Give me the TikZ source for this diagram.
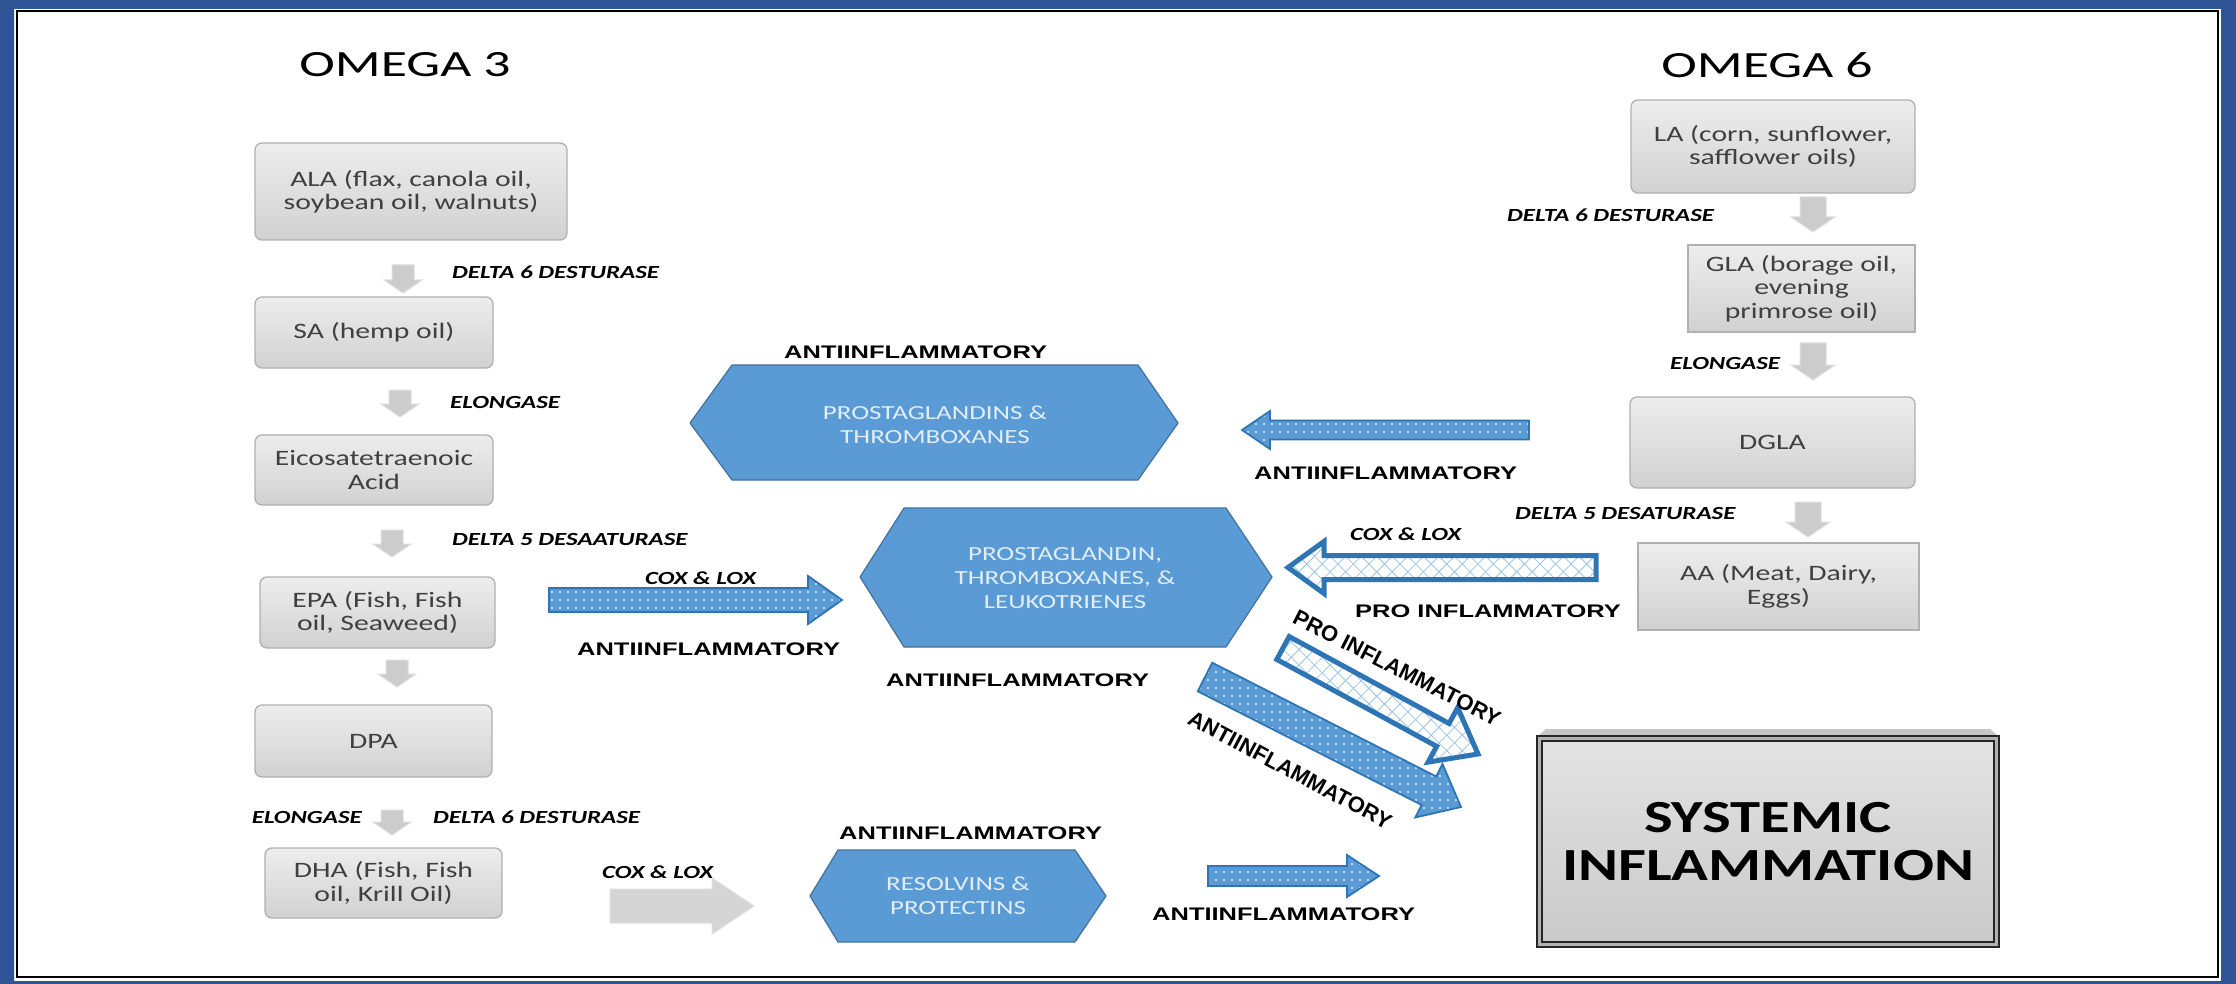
\documentclass[tikz,border=0pt]{standalone}
\usepackage{fontspec}
\usetikzlibrary{calc,patterns.meta}
\newfontfamily\boxfont[FakeStretch=1.35]{Carlito}
\newfontfamily\titlefont[FakeStretch=1.45]{Carlito}
\newfontfamily\sysfont[FakeStretch=1.32]{Carlito}
\newfontfamily\antifont[FakeStretch=1.4]{Liberation Sans}
\newfontfamily\diagfont{Liberation Sans}
\definecolor{hexblue}{HTML}{5B9BD5}
\definecolor{hexedge}{HTML}{41719C}
\definecolor{arrowedge}{HTML}{2E75B6}
\definecolor{hatchblue}{HTML}{9DC3E6}
\definecolor{frameblue}{HTML}{2F5597}
\definecolor{boxtext}{HTML}{404040}
\newcommand{\blockarr}[6][]{%
  \coordinate (ba-h) at ($(#3)!#6!(#2)$);
  \path[#1] ($(#2)!#4!90:(#3)$) -- ($(ba-h)!#4!-90:(#2)$) -- ($(ba-h)!#5!-90:(#2)$) -- (#3)
    -- ($(ba-h)!#5!90:(#2)$) -- ($(ba-h)!#4!90:(#2)$) -- ($(#2)!#4!-90:(#3)$) -- cycle;
}
\begin{document}
\begin{tikzpicture}[x=1pt,y=-1pt,
  graybox/.style={draw=gray!62, line width=1.3pt, top color=gray!14, bottom color=gray!36,
    rounded corners=7pt, align=center, font=\boxfont\fontsize{22}{23.5}\selectfont,
    text=boxtext, inner sep=0pt},
  sqbox/.style={graybox, sharp corners},
  enzyme/.style={font=\boxfont\bfseries\itshape\fontsize{18.5}{20}\selectfont, inner sep=0pt},
  anti/.style={font=\antifont\bfseries\fontsize{18.2}{20}\selectfont, inner sep=0pt},
  diag/.style={font=\diagfont\bfseries\fontsize{22}{24}\selectfont, inner sep=0pt},
  title/.style={font=\titlefont\fontsize{37}{40}\selectfont, inner sep=0pt},
  hextext/.style={font=\boxfont\fontsize{20}{24}\selectfont, text=white!82!hexblue, align=center, inner sep=0pt},
  hexfill/.style={fill=hexblue, draw=hexedge, line width=1.2pt, line join=round},
  grayarr/.style={fill=gray!40, draw=gray!26, line width=1pt},
  bigarr/.style={fill=gray!33, draw=gray!25, line width=1pt},
  dotarr/.style={preaction={fill=hexblue}, pattern={Dots[distance=8pt,radius=1.1pt]},
    pattern color=white!85!hexblue, draw=arrowedge, line width=1.8pt, line join=miter},
  hatcharr/.style={preaction={fill=white}, pattern={Hatch[distance=11pt,angle=45,line width=0.8pt]},
    pattern color=hatchblue, draw=arrowedge, line width=5pt, line join=miter},
  sysbox/.style={draw=black!85, line width=2pt, double=gray!60, double distance=3pt,
    top color=gray!22, bottom color=gray!42, minimum width=457pt, minimum height=206pt,
    align=center, font=\sysfont\bfseries\fontsize{46}{48}\selectfont, inner sep=0pt}
]
\useasboundingbox (0,0) rectangle (2236,984);
\fill[white] (0,0) rectangle (2236,984);
% frame
\fill[frameblue, even odd rule] (0,0) rectangle (2236,984) (14,9) rectangle (2221,981);
\draw[black, line width=2.5pt] (17,11) rectangle (2218,977);

% titles
\node[title] (om3) at (405,65) {OMEGA 3};
\node[title] (om6) at (1767,65) {OMEGA 6};

% omega 3 column
\node[graybox, minimum width=312pt, minimum height=97pt] (ALA) at (411,191.5) {ALA (flax, canola oil,\\soybean oil, walnuts)};
\node[graybox, minimum width=238pt, minimum height=71pt] (SA) at (374,332.5) {SA (hemp oil)};
\node[graybox, minimum width=238pt, minimum height=70pt] (EIC) at (374,470) {Eicosatetraenoic\\Acid};
\node[graybox, minimum width=235pt, minimum height=71pt] (EPA) at (377.5,612.5) {EPA (Fish, Fish\\oil, Seaweed)};
\node[graybox, minimum width=237pt, minimum height=72pt] (DPA) at (373.5,741) {DPA};
\node[graybox, minimum width=237pt, minimum height=70pt] (DHA) at (383.5,883) {DHA (Fish, Fish\\oil, Krill Oil)};

% omega 6 column
\node[graybox, minimum width=284pt, minimum height=93pt] (LA) at (1773,146.5) {LA (corn, sunflower,\\safflower oils)};
\node[sqbox, minimum width=227pt, minimum height=87pt] (GLA) at (1801.5,288.5) {GLA (borage oil,\\evening\\primrose oil)};
\node[graybox, minimum width=285pt, minimum height=91pt] (DGLA) at (1772.5,442.5) {DGLA};
\node[sqbox, minimum width=281pt, minimum height=87pt] (AA) at (1778.5,586.5) {AA (Meat, Dairy,\\Eggs)};

% systemic
\fill[gray!45] (1546,729) -- (1990,729) -- (1998,736) -- (1538,736) -- cycle;
\node[sysbox] (SYS) at (1768,841.5) {SYSTEMIC\\INFLAMMATION};

% hexagons
\path[hexfill] (690,423) -- (732,365) -- (1138,365) -- (1178,423) -- (1138,480) -- (732,480) -- cycle;
\node[hextext] (HEX1) at (935,425) {PROSTAGLANDINS \&\\THROMBOXANES};
\path[hexfill] (860,577) -- (904,508) -- (1226,508) -- (1272,577) -- (1226,647) -- (904,647) -- cycle;
\node[hextext] (HEX2) at (1065,578) {PROSTAGLANDIN,\\THROMBOXANES, \&\\LEUKOTRIENES};
\path[hexfill] (810,896) -- (838,850) -- (1075,850) -- (1106,896) -- (1075,942) -- (838,942) -- cycle;
\node[hextext] (HEX3) at (958,896) {RESOLVINS \&\\PROTECTINS};

% gray step arrows
\coordinate (g1t) at (403,265); \coordinate (g1h) at (403,293);
\coordinate (g2t) at (400,390); \coordinate (g2h) at (400,417);
\coordinate (g3t) at (392,530); \coordinate (g3h) at (392,557);
\coordinate (g4t) at (397,660); \coordinate (g4h) at (397,687);
\coordinate (g5t) at (392,810); \coordinate (g5h) at (392,835);
\coordinate (g6t) at (1813,197); \coordinate (g6h) at (1813,232);
\coordinate (g7t) at (1813,343); \coordinate (g7h) at (1813,380);
\coordinate (g8t) at (1808,502); \coordinate (g8h) at (1808,537);
\blockarr[grayarr]{g1t}{g1h}{11pt}{19pt}{13pt}
\blockarr[grayarr]{g2t}{g2h}{11pt}{19pt}{13pt}
\blockarr[grayarr]{g3t}{g3h}{11pt}{19pt}{13pt}
\blockarr[grayarr]{g4t}{g4h}{11pt}{19pt}{13pt}
\blockarr[grayarr]{g5t}{g5h}{11pt}{19pt}{13pt}
\blockarr[grayarr]{g6t}{g6h}{13pt}{22pt}{15pt}
\blockarr[grayarr]{g7t}{g7h}{13pt}{22pt}{15pt}
\blockarr[grayarr]{g8t}{g8h}{13pt}{22pt}{15pt}

% pathway arrows
\coordinate (a1t) at (549,600); \coordinate (a1h) at (842,600);
\blockarr[dotarr]{a1t}{a1h}{12pt}{24pt}{34pt}
\coordinate (a2t) at (1529,430); \coordinate (a2h) at (1242,430);
\blockarr[dotarr]{a2t}{a2h}{9.5pt}{19pt}{28pt}
\coordinate (a3t) at (1596,567.5); \coordinate (a3h) at (1288,567.5);
\blockarr[hatcharr]{a3t}{a3h}{12pt}{26pt}{36pt}
\coordinate (a4t) at (1283,648); \coordinate (a4h) at (1478,754);
\blockarr[hatcharr]{a4t}{a4h}{13pt}{31pt}{40pt}
\coordinate (a5t) at (1205,677); \coordinate (a5h) at (1461,807);
\blockarr[dotarr]{a5t}{a5h}{16pt}{30pt}{36pt}
\coordinate (a6t) at (1208,876); \coordinate (a6h) at (1379,876);
\blockarr[dotarr]{a6t}{a6h}{10pt}{21pt}{32pt}
\coordinate (a7t) at (610,906); \coordinate (a7h) at (754,906);
\blockarr[bigarr]{a7t}{a7h}{17pt}{28pt}{42pt}

% enzyme labels
\node[enzyme, anchor=west] (e1) at (452,272) {DELTA 6 DESTURASE};
\node[enzyme, anchor=west] (e2) at (450,402) {ELONGASE};
\node[enzyme, anchor=west] (e3) at (452,540) {DELTA 5 DESAATURASE};
\node[enzyme, anchor=east] (e4) at (362,817) {ELONGASE};
\node[enzyme, anchor=west] (e5) at (433,817) {DELTA 6 DESTURASE};
\node[enzyme, anchor=west] (e6) at (1507,215) {DELTA 6 DESTURASE};
\node[enzyme, anchor=west] (e7) at (1670,363) {ELONGASE};
\node[enzyme, anchor=west] (e8) at (1515,514) {DELTA 5 DESATURASE};
\node[enzyme, anchor=west] (c1) at (645,578) {COX \& LOX};
\node[enzyme, anchor=west] (c2) at (602,872) {COX \& LOX};
\node[enzyme, anchor=west] (c3) at (1350,534) {COX \& LOX};

% effect labels
\node[anti, anchor=west] (t1) at (784,352) {ANTIINFLAMMATORY};
\node[anti, anchor=west] (t2) at (577,649) {ANTIINFLAMMATORY};
\node[anti, anchor=west] (t3) at (1254,473) {ANTIINFLAMMATORY};
\node[anti, anchor=west] (t4) at (886,680) {ANTIINFLAMMATORY};
\node[anti, anchor=west] (t5) at (839,833) {ANTIINFLAMMATORY};
\node[anti, anchor=west] (t6) at (1152,914) {ANTIINFLAMMATORY};
\node[anti, anchor=west] (t7) at (1355,611) {PRO INFLAMMATORY};
\node[diag, rotate=-27] (t8) at (1397,668) {PRO INFLAMMATORY};
\node[diag, rotate=-28] (t9) at (1290,770) {ANTIINFLAMMATORY};
\end{tikzpicture}
\end{document}
